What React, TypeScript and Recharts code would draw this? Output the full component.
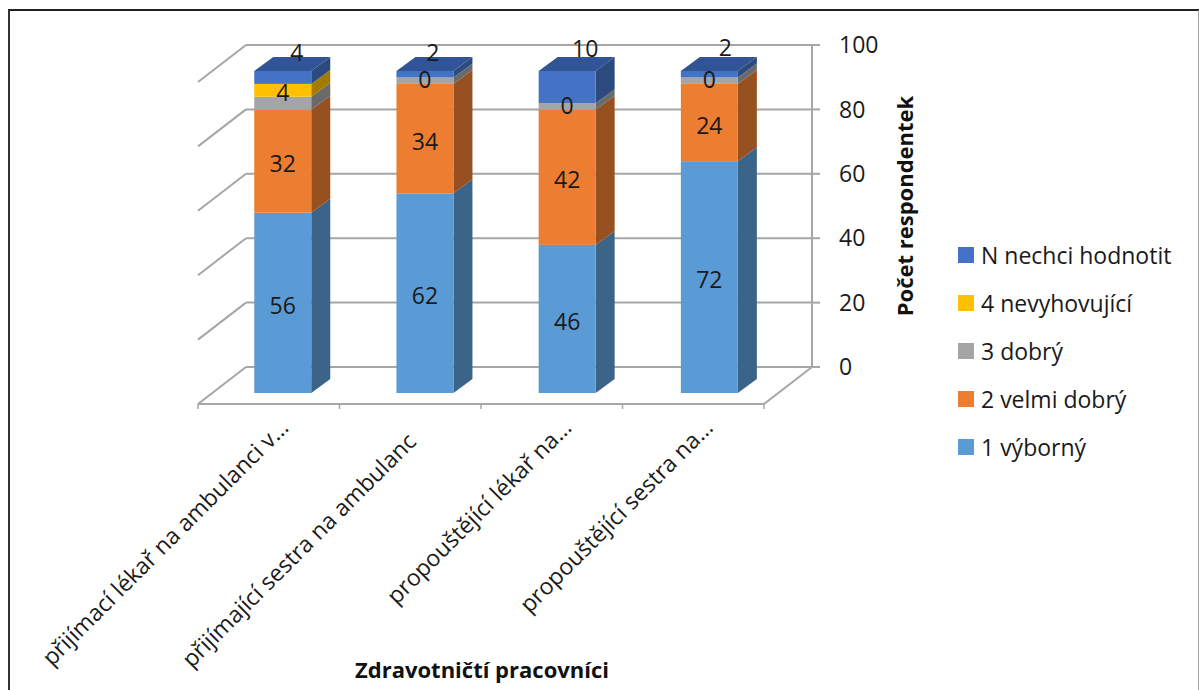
import React from 'react';
import { BarChart, Bar, XAxis, YAxis, CartesianGrid, Legend, LabelList } from 'recharts';

const categories = [
  'přijímací lékař na ambulanci v…',
  'přijímající sestra na ambulanc',
  'propouštějící lékař na…',
  'propouštějící sestra na…',
];
const vyborny = [56, 62, 46, 72];
const velmiDobry = [32, 34, 42, 24];
const dobry = [4, 2, 2, 2];
const nevyhovujici = [4, 0, 0, 0];
const nechciHodnotit = [4, 2, 10, 2];
const yTicks = [0, 20, 40, 60, 80, 100];

const rows = categories.map((name, i) => ({
  name,
  vyborny: vyborny[i],
  velmiDobry: velmiDobry[i],
  dobry: dobry[i],
  nevyhovujici: nevyhovujici[i],
  nechciHodnotit: nechciHodnotit[i],
}));

const FONT = '"Open Sans", sans-serif';
const TEXT = '#1a1a1a';
const WALL = '#a6a6a6';

const PLOT = { left: 246, top: 45, width: 566, height: 322 };
// floor depth: back wall to front edge
const DEPTH = { x: -48, y: 37 };
// columns stand part way between the back wall and the front edge
const BAR_SHIFT = { x: -33.75, y: 26 };
const BAR_DEPTH = { x: 19, y: -14 };
// perspective spreads the columns a little wider than the back wall bands
const BAR_SPREAD = 0.7;
// the N series labels were dragged off their columns by hand
const topLabelNudge = [
  { x: 14, y: 52 },
  { x: 8, y: 52 },
  { x: 18, y: 48 },
  { x: 16, y: 47 },
];
// the clipped second category label sits lower than the others
const tickNudge = [
  { x: 0, y: 9 },
  { x: -14, y: 23 },
  { x: 0, y: 9 },
  { x: 0, y: 9 },
];

// side walls, floor and ticks around the back-wall grid
const Walls = () => {
  const bottom = PLOT.top + PLOT.height;
  const right = PLOT.left + PLOT.width;
  const frontY = bottom + DEPTH.y;
  const frontLeft = PLOT.left + DEPTH.x;
  const step = PLOT.width / categories.length;
  return (
    <g stroke={WALL} strokeWidth={2} fill="none">
      {yTicks.map((t) => {
        const y = bottom - (t / 100) * PLOT.height;
        return <line key={t} x1={PLOT.left} y1={y} x2={frontLeft} y2={y + DEPTH.y} />;
      })}
      <line x1={right} y1={bottom} x2={right + DEPTH.x} y2={frontY} />
      <line x1={frontLeft} y1={frontY} x2={right + DEPTH.x} y2={frontY} />
      {categories.concat('').map((_, i) => (
        <line
          key={i}
          x1={frontLeft + i * step}
          y1={frontY}
          x2={frontLeft + i * step}
          y2={frontY + 5}
          strokeWidth={1.5}
        />
      ))}
    </g>
  );
};

const Column = ({ x, y, width, height, fill, side, top, index }: any) => {
  const fx = x + BAR_SHIFT.x + index * BAR_SPREAD;
  const fy = y + BAR_SHIFT.y;
  const dx = BAR_DEPTH.x;
  const dy = BAR_DEPTH.y;
  return (
    <g>
      <polygon
        points={`${fx + width},${fy} ${fx + width + dx},${fy + dy} ${fx + width + dx},${fy + height + dy} ${fx + width},${fy + height}`}
        fill={side}
      />
      {top && (
        <polygon
          points={`${fx},${fy} ${fx + dx},${fy + dy} ${fx + width + dx},${fy + dy} ${fx + width},${fy}`}
          fill={top}
        />
      )}
      <rect x={fx} y={fy} width={width} height={height} fill={fill} />
    </g>
  );
};

const SegmentLabel = ({ x, y, width, height, value, index }: any) => (
  <text
    x={x + width / 2 + BAR_SHIFT.x + index * BAR_SPREAD}
    y={y + height / 2 + BAR_SHIFT.y + 2}
    textAnchor="middle"
    dominantBaseline="central"
    fontFamily={FONT}
    fontSize={23}
    fill={TEXT}
  >
    {value}
  </text>
);

const TopLabel = ({ x, width, value, index }: any) => (
  <text
    x={x + width / 2 + BAR_SHIFT.x + index * BAR_SPREAD + topLabelNudge[index].x}
    y={topLabelNudge[index].y}
    textAnchor="middle"
    dominantBaseline="central"
    fontFamily={FONT}
    fontSize={23}
    fill={TEXT}
  >
    {value}
  </text>
);

const CategoryTick = ({ x, y, payload, index }: any) => {
  const tx = x + BAR_SHIFT.x + 7 + tickNudge[index].x;
  const ty = y + 45 + tickNudge[index].y;
  return (
    <text
      x={tx}
      y={ty}
      textAnchor="end"
      transform={`rotate(-45 ${tx} ${ty})`}
      fontFamily={FONT}
      fontSize={23}
      fill={TEXT}
    >
      {payload.value}
    </text>
  );
};

const LegendList = ({ payload }: any) => (
  <div style={{ fontFamily: FONT, fontSize: 23, color: TEXT }}>
    {[...(payload ?? [])].reverse().map((item: any) => (
      <div key={item.value} style={{ display: 'flex', alignItems: 'center', height: 48 }}>
        <span style={{ width: 16, height: 16, background: item.color, marginRight: 7 }} />
        <span style={{ whiteSpace: 'nowrap' }}>{item.value}</span>
      </div>
    ))}
  </div>
);

export default function App() {
  return (
    <div style={{ position: 'absolute', left: 0, top: 0, width: 1199, height: 690, overflow: 'hidden', background: '#fff' }}>
      <div
        style={{
          position: 'absolute',
          left: 8,
          top: 9,
          width: 1188,
          height: 680,
          borderTop: '2px solid #222',
          borderLeft: '2px solid #333',
          borderRight: '2px solid #a6a6a6',
        }}
      />
      <BarChart
        width={1199}
        height={690}
        data={rows}
        margin={{ left: PLOT.left, top: PLOT.top, right: 287, bottom: 12 }}
        style={{ position: 'absolute', left: 0, top: 0 }}
      >
        <Walls />
        <CartesianGrid horizontal vertical={false} stroke={WALL} strokeWidth={2} />
        <XAxis
          dataKey="name"
          axisLine={false}
          tickLine={false}
          height={311}
          interval={0}
          tick={<CategoryTick />}
          label={{
            value: 'Zdravotničtí pracovníci',
            position: 'insideBottom',
            offset: 0,
            dx: -47,
            style: { fontFamily: FONT, fontSize: 22, fontWeight: 700, fill: '#111' },
          }}
        />
        <YAxis
          orientation="right"
          width={100}
          domain={[0, 100]}
          ticks={yTicks}
          stroke={WALL}
          axisLine={{ stroke: WALL, strokeWidth: 2 }}
          tickLine={{ stroke: WALL, strokeWidth: 2 }}
          tickSize={8}
          tickMargin={19}
          tick={{ fontFamily: FONT, fontSize: 23, fill: TEXT }}
          label={{
            value: 'Počet respondentek',
            angle: -90,
            position: 'insideRight',
            offset: 7,
            style: { fontFamily: FONT, fontSize: 22, fontWeight: 700, fill: '#111', textAnchor: 'middle' },
          }}
        />
        <Legend
          layout="horizontal"
          align="center"
          verticalAlign="middle"
          wrapperStyle={{ left: 958, top: 231, width: 235 }}
          content={<LegendList />}
        />
        <Bar
          dataKey="vyborny"
          name="1 výborný"
          stackId="a"
          barSize={57}
          fill="#5b9bd5"
          isAnimationActive={false}
          shape={(p: any) => <Column {...p} side="#3a6488" />}
        >
          <LabelList dataKey="vyborny" content={<SegmentLabel />} />
        </Bar>
        <Bar
          dataKey="velmiDobry"
          name="2 velmi dobrý"
          stackId="a"
          barSize={57}
          fill="#ed7d31"
          isAnimationActive={false}
          shape={(p: any) => <Column {...p} side="#97501f" />}
        >
          <LabelList dataKey="velmiDobry" content={<SegmentLabel />} />
        </Bar>
        <Bar
          dataKey="dobry"
          name="3 dobrý"
          stackId="a"
          barSize={57}
          fill="#a5a5a5"
          isAnimationActive={false}
          shape={(p: any) => <Column {...p} side="#6a6a6a" />}
        />
        <Bar
          dataKey="nevyhovujici"
          name="4 nevyhovující"
          stackId="a"
          barSize={57}
          fill="#ffc000"
          isAnimationActive={false}
          shape={(p: any) => <Column {...p} side="#a37b00" />}
        >
          <LabelList dataKey="nevyhovujici" content={<SegmentLabel />} />
        </Bar>
        <Bar
          dataKey="nechciHodnotit"
          name="N nechci hodnotit"
          stackId="a"
          barSize={57}
          fill="#4472c4"
          isAnimationActive={false}
          shape={(p: any) => <Column {...p} side="#2c4a7e" top="#305496" />}
        >
          <LabelList dataKey="nechciHodnotit" content={<TopLabel />} />
        </Bar>
      </BarChart>
    </div>
  );
}
